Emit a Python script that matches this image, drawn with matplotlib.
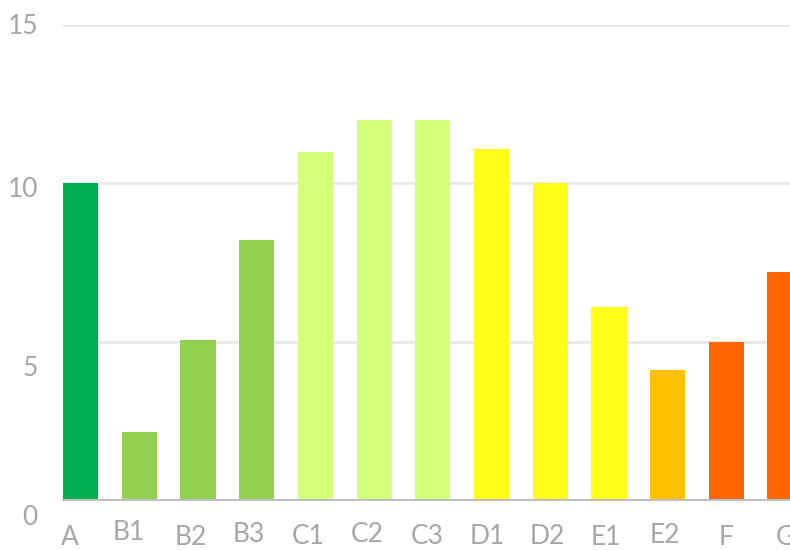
import matplotlib
matplotlib.use("Agg")
import matplotlib.pyplot as plt
import matplotlib.transforms as mtransforms

categories = ["A", "B1", "B2", "B3", "C1", "C2", "C3", "D1", "D2", "E1", "E2", "F", "G"]
values = [10.0, 2.15, 5.05, 8.2, 11.0, 12.0, 12.0, 11.1, 10.0, 6.1, 4.1, 5.0, 7.2]
colors = ["#00B050", "#92D050", "#92D050", "#92D050", "#D4FF7A", "#D4FF7A", "#D4FF7A",
          "#FFFF1A", "#FFFF1A", "#FFFF1A", "#FFC000", "#FF6600", "#FF6600"]
y_ticks = [0, 5, 10, 15]
y_tick_labels = ["0", "5", "10", "15"]

text_color = "#A6A6A6"
font = "Lato"

W, H, DPI = 790, 550, 100
fig = plt.figure(figsize=(W / DPI, H / DPI), dpi=DPI)

unit = 58.7  # pixels per category
x_left = -0.3
x_right = 12.5
ax_left_px = 63
ax_w_px = (x_right - x_left) * unit
ax_bottom_px = 50
ax_h_px = 475
ax = fig.add_axes([ax_left_px / W, ax_bottom_px / H, ax_w_px / W, ax_h_px / H])

x = list(range(len(categories)))
ax.bar(x, values, width=0.6, color=colors, zorder=3)

ax.set_xlim(x_left, x_right)
ax.set_ylim(0, 15)
ax.set_yticks(y_ticks)
ax.set_yticklabels(y_tick_labels)
ax.set_xticks(x)
ax.set_xticklabels(categories)

for s in ["top", "right", "left"]:
    ax.spines[s].set_visible(False)
ax.spines["bottom"].set_color("#BFBFBF")
ax.spines["bottom"].set_linewidth(1.5)
ax.spines["bottom"].set_zorder(4)

ax.yaxis.grid(True, color="#E6E6E6", linewidth=1.8, zorder=0)
ax.set_axisbelow(True)
ax.tick_params(axis="both", length=0, colors=text_color, labelsize=19)
ax.tick_params(axis="y", pad=18)
ax.tick_params(axis="x", pad=18)
for lbl in ax.get_xticklabels() + ax.get_yticklabels():
    lbl.set_fontfamily(font)
    lbl.set_color(text_color)

# small per-label offsets (pixels) to mimic original label placement
y_offsets = {"0": -15, "5": -24, "10": -4, "15": 1}
for lbl in ax.get_yticklabels():
    dy = y_offsets.get(lbl.get_text(), 0)
    lbl.set_transform(lbl.get_transform() + mtransforms.Affine2D().translate(0, dy))

x_dx = [-11, -11, -7, -8, -7, -7, -6, -4, -3, -3, -3, 0, 0]
x_dy = [0, 5, 0, 3, 1, 3, 1, 1, 1, 0, 2, 0, 0]
for lbl, dx, dy in zip(ax.get_xticklabels(), x_dx, x_dy):
    lbl.set_transform(lbl.get_transform() + mtransforms.Affine2D().translate(dx, dy))

fig.savefig("out.png", dpi=DPI)
